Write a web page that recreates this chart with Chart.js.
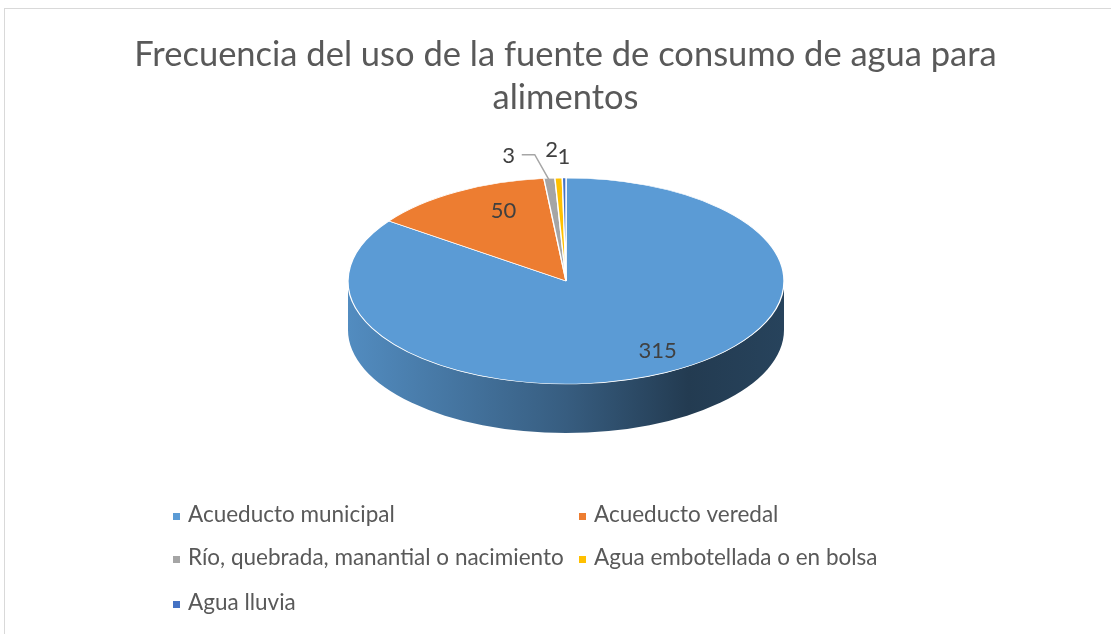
<!DOCTYPE html>
<html>
<head>
<meta charset="utf-8">
<script src="https://cdn.jsdelivr.net/npm/chart.js@4"></script>
<style>
  html, body { margin: 0; padding: 0; background: #fff; overflow: hidden; }
  #frame { position: absolute; left: 4px; top: 8px; width: 1130px; height: 650px; border: 1px solid #d9d9d9; }
  #wrap { position: absolute; left: 0; top: 0; width: 1111px; height: 634px; }
</style>
</head>
<body>
<div id="frame"></div>
<div id="wrap"><canvas id="canvasAgua" width="1111" height="634"></canvas></div>
<script>
// datos del grafico
var categories = [
  'Acueducto municipal',
  'Acueducto veredal',
  'Río, quebrada, manantial o nacimiento',
  'Agua embotellada o en bolsa',
  'Agua lluvia'
];
var counts = [315, 50, 3, 2, 1];
var colors = ['#5B9BD5', '#ED7D31', '#A5A5A5', '#FFC000', '#4472C4'];
var titleLines = ['Frecuencia del uso de la fuente de consumo de agua para', 'alimentos'];

var FONT = 'Lato, "Open Sans", sans-serif';

function shade(hex, f) {
  var n = parseInt(hex.slice(1), 16);
  var r = Math.round(((n >> 16) & 255) * f);
  var g = Math.round(((n >> 8) & 255) * f);
  var b = Math.round((n & 255) * f);
  return 'rgb(' + r + ',' + g + ',' + b + ')';
}

// pie "3D": aplana el pastel y dibuja el borde lateral
var pie3d = {
  id: 'pie3d',
  beforeDatasetsDraw: function(chart, args, opts) {
    var ctx = chart.ctx;
    var meta = chart.getDatasetMeta(0);
    var first = meta.data[0];
    var r = first.outerRadius;

    meta.data.forEach(function(arc, i) {
      var a1 = Math.max(arc.startAngle, 0);
      var a2 = Math.min(arc.endAngle, Math.PI);
      if (a2 <= a1) return;
      var base = chart.data.datasets[0].backgroundColor[i];
      var grad = ctx.createLinearGradient(opts.cx - opts.rx, 0, opts.cx + opts.rx, 0);
      grad.addColorStop(0, shade(base, 0.9));
      grad.addColorStop(0.5, shade(base, 0.6));
      grad.addColorStop(0.78, shade(base, 0.38));
      grad.addColorStop(1, shade(base, 0.43));
      ctx.save();
      ctx.fillStyle = grad;
      ctx.beginPath();
      ctx.ellipse(opts.cx, opts.cy, opts.rx, opts.ry, 0, a1, a2);
      ctx.ellipse(opts.cx, opts.cy + opts.depth, opts.rx, opts.ry, 0, a2, a1, true);
      ctx.closePath();
      ctx.fill();
      ctx.restore();
    });

    ctx.save();
    ctx.translate(opts.cx, opts.cy);
    ctx.scale(opts.rx / r, opts.ry / r);
    ctx.translate(-first.x, -first.y);
  },
  afterDatasetsDraw: function(chart, args, opts) {
    var ctx = chart.ctx;
    ctx.restore();

    var meta = chart.getDatasetMeta(0);
    var values = chart.data.datasets[0].data;
    ctx.save();
    ctx.font = '22px ' + FONT;
    ctx.fillStyle = '#404040';
    ctx.textAlign = 'center';
    ctx.textBaseline = 'middle';
    meta.data.forEach(function(arc, i) {
      var mid = (arc.startAngle + arc.endAngle) / 2;
      var f = opts.labelRadius[i];
      var sh = opts.labelShift[i];
      var x = opts.cx + Math.cos(mid) * opts.rx * f + sh[0];
      var y = opts.cy + Math.sin(mid) * opts.ry * f + sh[1];
      ctx.fillText(values[i], x, y);
      if (opts.leader[i]) {
        var ex = opts.cx + Math.cos(mid) * opts.rx * 0.97;
        var ey = opts.cy + Math.sin(mid) * opts.ry * 0.97;
        ctx.strokeStyle = '#a6a6a6';
        ctx.lineWidth = 1.5;
        ctx.beginPath();
        ctx.moveTo(x + 13, y - 1);
        ctx.lineTo(x + 26, y - 1);
        ctx.lineTo(ex, ey);
        ctx.stroke();
      }
    });
    ctx.restore();
  }
};

// leyenda en dos columnas como en Excel
var gridLegend = {
  id: 'gridLegend',
  afterDraw: function(chart, args, opts) {
    var ctx = chart.ctx;
    var cols = chart.data.datasets[0].backgroundColor;
    ctx.save();
    ctx.font = '22.5px ' + FONT;
    ctx.textBaseline = 'middle';
    chart.data.labels.forEach(function(lab, i) {
      var x = opts.x[i % 2];
      var y = opts.y[Math.floor(i / 2)];
      ctx.fillStyle = cols[i];
      ctx.fillRect(x - 3, y - 2, 7, 7);
      ctx.fillStyle = '#595959';
      ctx.fillText(lab, x + 12, y);
    });
    ctx.restore();
  }
};

var ctx = document.getElementById('canvasAgua');
var pieChart = new Chart(ctx, {
  type: 'pie',
  data: {
    labels: categories,
    datasets: [{
      data: counts,
      backgroundColor: colors,
      borderColor: '#ffffff',
      borderWidth: 1.5,
      clip: false
    }]
  },
  options: {
    responsive: false,
    animation: false,
    layout: { padding: { left: 20, bottom: 20 } },
    plugins: {
      legend: { display: false },
      tooltip: { enabled: false },
      title: {
        display: true,
        text: titleLines,
        color: '#595959',
        font: { family: FONT, size: 34.5, weight: 'normal', lineHeight: 1.25 },
        padding: { top: 33, bottom: 10 }
      },
      pie3d: {
        cx: 566, cy: 281, rx: 218, ry: 103, depth: 49,
        labelRadius: [0.87, 0.7, 1.22, 1.27, 1.2],
        labelShift: [[5, -10], [14, -8], [-37, 0], [-5, 0], [0, 0]],
        leader: [false, false, true, false, false]
      },
      gridLegend: {
        x: [176, 582],
        y: [515, 558, 603]
      }
    }
  },
  plugins: [pie3d, gridLegend]
});
</script>
</body>
</html>
